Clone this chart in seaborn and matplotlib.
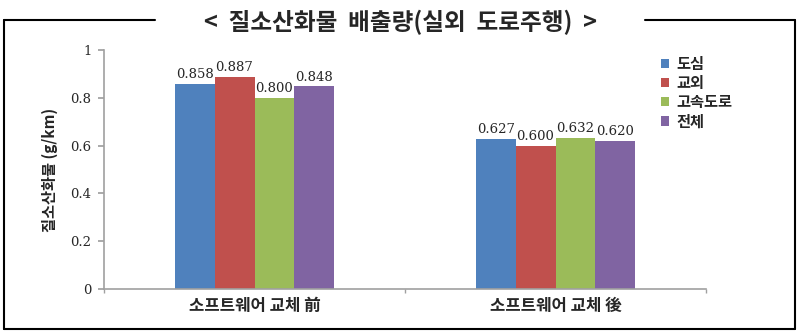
import matplotlib
matplotlib.use("Agg")
import matplotlib.pyplot as plt
import seaborn as sns
import pandas as pd
from matplotlib.lines import Line2D
from matplotlib.ticker import FixedLocator

categories = ["소프트웨어 교체 前", "소프트웨어 교체 後"]
series = ["도심", "교외", "고속도로", "전체"]
values = {
    "도심": [0.858, 0.627],
    "교외": [0.887, 0.600],
    "고속도로": [0.800, 0.632],
    "전체": [0.848, 0.620],
}
colors = ["#4F81BD", "#C0504D", "#9BBB59", "#8064A2"]
title = "<  질소산화물  배출량(실외  도로주행)  >"
ylabel = "질소산화물 (g/km)"
yticks = [0, 0.2, 0.4, 0.6, 0.8, 1.0]
yticklabels = ["0", "0.2", "0.4", "0.6", "0.8", "1"]

rows = []
for s in series:
    for c, v in zip(categories, values[s]):
        rows.append({"cat": c, "series": s, "value": v})
df = pd.DataFrame(rows)

sns.set_theme(style="white")
plt.rcParams["font.family"] = ["Noto Sans CJK KR", "DejaVu Sans"]

fig = plt.figure(figsize=(8, 3.36), dpi=100)
ax = fig.add_axes([0.13, 0.14, 0.7525, 0.711])

sns.barplot(data=df, x="cat", y="value", hue="series", order=categories,
            hue_order=series, palette=colors, width=0.53, saturation=1,
            edgecolor="none", linewidth=0, ax=ax, legend=True)

for cont in ax.containers:
    ax.bar_label(cont, labels=[f"{v:.3f}" for v in cont.datavalues],
                 padding=2, fontsize=9.5, family="DejaVu Serif")

ax.set_xlim(-0.5, 1.5)
ax.set_ylim(0, 1)
ax.set_yticks(yticks)
ax.set_yticklabels(yticklabels, family="DejaVu Serif", fontsize=9.5)
ax.set_xticks([0, 1])
ax.set_xticklabels(categories, fontsize=12, fontweight="bold")
ax.xaxis.set_minor_locator(FixedLocator([-0.5, 0.5, 1.5]))
ax.tick_params(axis="x", which="major", length=0, pad=6)
ax.tick_params(axis="x", which="minor", length=3, color="#A0A0A0", direction="out", bottom=True)
ax.tick_params(axis="y", length=4, color="#A0A0A0", direction="out", left=True, pad=5)
ax.set_xlabel("")
ax.set_ylabel(ylabel, fontsize=11, fontweight="bold", labelpad=9)

for side in ["top", "right"]:
    ax.spines[side].set_visible(False)
for side in ["left", "bottom"]:
    ax.spines[side].set_color("#A0A0A0")
    ax.spines[side].set_linewidth(1.2)

ax.legend(loc="upper left", bbox_to_anchor=(0.915, 1.0), frameon=False,
          prop={"family": ["Noto Sans CJK KR"], "weight": "bold", "size": 11},
          handlelength=0.55, handleheight=0.55, handletextpad=0.45,
          labelspacing=0.2, borderaxespad=0)

# outer frame with the title breaking the top line
fx0, fx1 = 4 / 800, 795 / 800
fy0, fy1 = 1 - 329 / 336, 1 - 20 / 336
kw = dict(color="black", linewidth=1.5, transform=fig.transFigure)
fig.add_artist(Line2D([fx0, fx0], [fy0, fy1], **kw))
fig.add_artist(Line2D([fx1, fx1], [fy0, fy1], **kw))
fig.add_artist(Line2D([fx0, fx1], [fy0, fy0], **kw))
fig.add_artist(Line2D([fx0, 155 / 800], [fy1, fy1], **kw))
fig.add_artist(Line2D([645 / 800, fx1], [fy1, fy1], **kw))
fig.text(0.5, 1 - 22 / 336, title, ha="center", va="center",
         fontsize=17, fontweight="bold")

fig.savefig("out.png", dpi=100)
